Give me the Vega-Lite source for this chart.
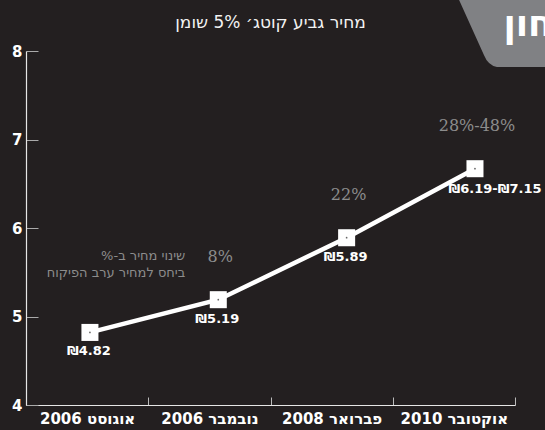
{
  "$schema": "https://vega.github.io/schema/vega-lite/v6.json",
  "width": 489,
  "height": 354,
  "autosize": {"type": "none"},
  "padding": {"left": 26, "top": 51, "right": 30, "bottom": 25},
  "background": "#231f20",
  "config": {
    "view": {"stroke": null},
    "font": "Liberation Sans"
  },
  "title": {
    "text": "מחיר גביע קוטג׳ 5% שומן",
    "color": "#f2f2f2",
    "fontSize": 17,
    "fontWeight": "normal",
    "font": "DejaVu Sans",
    "anchor": "middle",
    "offset": -37
  },
  "datasets": {
    "prices": [
      {"period": "אוגוסט 2006", "price": 4.82, "label": "₪4.82", "change": null, "note": null},
      {"period": "נובמבר 2006", "price": 5.19, "label": "₪5.19", "change": "8%", "note": "שינוי מחיר ב-%\u200F\nביחס למחיר ערב הפיקוח"},
      {"period": "פברואר 2008", "price": 5.89, "label": "₪5.89", "change": "22%", "note": null},
      {"period": "אוקטובר 2010", "price": 6.67, "label": "₪6.19-₪7.15", "change": "28%-48%", "note": null}
    ],
    "logo": [
      {"logo": "חון"}
    ]
  },
  "data": {"name": "prices"},
  "resolve": {"scale": {"x": "independent"}},
  "layer": [
    {
      "layer": [
        {
          "mark": {"type": "point", "opacity": 0},
          "encoding": {
            "x": {
              "field": "period",
              "type": "nominal",
              "sort": null,
              "scale": {"type": "band", "paddingInner": 0, "paddingOuter": 0},
              "axis": {
                "title": null,
                "labelAngle": 0,
                "labelColor": "#ffffff",
                "labelFont": "DejaVu Sans",
                "labelFontSize": 15,
                "labelFontWeight": "bold",
                "labelPadding": 14,
                "domainColor": "#e6e6e6",
                "domainWidth": 1.2,
                "tickColor": "#bbbbbb",
                "tickSize": -8,
                "tickBand": "extent",
                "tickWidth": 1
              }
            },
            "y": {
              "field": "price",
              "type": "quantitative",
              "scale": {"domain": [4, 8]},
              "axis": {
                "title": null,
                "values": [4, 5, 6, 7, 8],
                "format": "d",
                "grid": false,
                "labelColor": "#ffffff",
                "labelFont": "DejaVu Sans",
                "labelFontSize": 15,
                "labelFontWeight": "bold",
                "labelPadding": 16,
                "domainColor": "#e6e6e6",
                "domainWidth": 1.2,
                "tickColor": "#aaaaaa",
                "tickSize": -12,
                "tickWidth": 1
              }
            }
          }
        },
        {
          "data": {"name": "logo"},
          "mark": {"type": "point", "shape": "M -1 -0.69 L 1 -0.69 L 1 0.69 L -0.23 0.69 Q -0.40 0.66 -0.48 0.46 Z", "filled": true, "color": "#808184", "size": 10816, "opacity": 1, "strokeWidth": 0},
          "encoding": {
            "x": {"datum": "אוקטובר 2010", "type": "nominal", "bandPosition": 0.95},
            "y": {"datum": 8.226, "type": "quantitative"}
          }
        },
        {
          "data": {"name": "logo"},
          "mark": {"type": "text", "color": "#ffffff", "font": "DejaVu Sans", "fontWeight": "bold", "fontSize": 36, "align": "left", "baseline": "alphabetic"},
          "encoding": {
            "x": {"datum": "אוקטובר 2010", "type": "nominal", "bandPosition": 0.905},
            "y": {"datum": 8.17, "type": "quantitative"},
            "text": {"field": "logo"}
          }
        }
      ]
    },
    {
      "layer": [
        {
          "mark": {"type": "line", "color": "#ffffff", "strokeWidth": 4.5}
        },
        {
          "mark": {"type": "point", "shape": "square", "filled": true, "color": "#ffffff", "size": 290, "opacity": 1}
        },
        {
          "mark": {"type": "point", "shape": "circle", "filled": true, "color": "#666666", "size": 3, "opacity": 1}
        },
        {
          "transform": [{"filter": "datum.period !== 'אוקטובר 2010'"}],
          "mark": {"type": "text", "color": "#ffffff", "font": "DejaVu Sans", "fontSize": 13, "fontWeight": "bold", "dy": 19, "dx": -1},
          "encoding": {"text": {"field": "label"}}
        },
        {
          "transform": [{"filter": "datum.period === 'אוקטובר 2010'"}],
          "mark": {"type": "text", "color": "#ffffff", "font": "DejaVu Sans", "fontSize": 13, "fontWeight": "bold", "dy": 20, "dx": 20},
          "encoding": {"text": {"field": "label"}}
        },
        {
          "transform": [{"filter": "datum.change != null"}],
          "mark": {"type": "text", "color": "#8c8c8c", "font": "DejaVu Serif", "fontSize": 16, "dy": -43, "dx": 2},
          "encoding": {"text": {"field": "change"}}
        },
        {
          "transform": [{"filter": "datum.note != null"}],
          "mark": {"type": "text", "color": "#8c8c8c", "font": "DejaVu Sans", "fontSize": 13, "align": "right", "baseline": "middle", "lineBreak": "\n", "lineHeight": 17, "dy": -44, "dx": -33},
          "encoding": {"text": {"field": "note"}}
        }
      ],
      "encoding": {
        "x": {
          "field": "period",
          "type": "nominal",
          "sort": null,
          "scale": {"type": "point", "padding": 0.405, "align": 0.615},
          "axis": null
        },
        "y": {"field": "price", "type": "quantitative", "scale": {"domain": [4, 8]}}
      }
    }
  ]
}
